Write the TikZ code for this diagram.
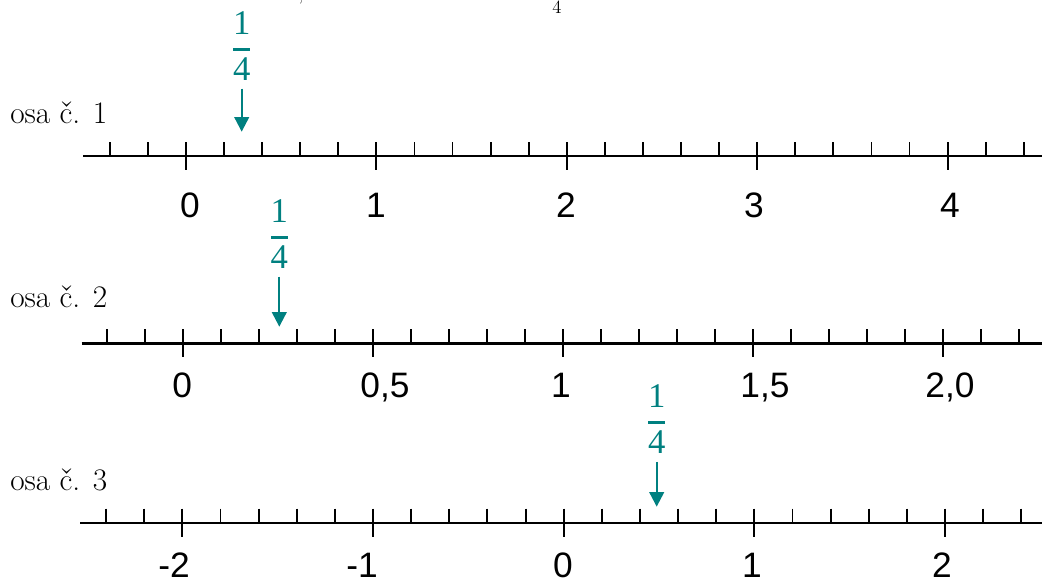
\documentclass[tikz,border=0pt]{standalone}
\usepackage{fontspec}
\newfontfamily\labfont{Liberation Sans}
\newfontfamily\fracfont{Liberation Serif}
\usetikzlibrary{arrows.meta}
\definecolor{tealc}{RGB}{0,128,128}
\begin{document}
\begin{tikzpicture}[x=0.75pt,y=-0.75pt,
  axisline/.style={line width=1.8pt, black},
  tickmark/.style={line width=1.4pt, black},
  axlabel/.style={font=\labfont\fontsize{26.5pt}{30pt}\selectfont, anchor=base, inner sep=0pt},
  osalabel/.style={font=\fontsize{23.5pt}{27pt}\selectfont, anchor=base west, inner sep=0pt},
  fracdigit/.style={font=\fracfont\fontsize{26pt}{30pt}\selectfont, text=tealc, anchor=base, inner sep=0pt},
  fracbar/.style={line width=2.2pt, tealc},
  markarrow/.style={line width=1.6pt, tealc, -{Triangle[width=11pt,length=11pt]}, shorten <=6pt},
  topfrag/.style={font=\fontsize{14pt}{16pt}\selectfont, anchor=base, inner sep=0pt}
]
\useasboundingbox (0,0) rectangle (1042,578);
\begin{scope}
\clip (0,0) rectangle (1042,578);
% clipped fragments of text above the picture
\node[topfrag] (frA) at (301,1) {,};
\node[topfrag] (frB) at (557,13) {4};
% axes with ticks
\foreach \ay/\ax/\ao/\as in {156/83/186/38.08, 343.3/81.7/183.3/38, 522.7/80/182.3/38.14} {
  \draw[axisline] (\ax,\ay) -- (1046,\ay);
  \foreach \i in {-2,...,22} {
    \pgfmathtruncatemacro\m{mod(\i+10,5)}
    \ifnum\m=0
      \draw[tickmark] ({\ao+\as*(\i)},{\ay-14}) -- ({\ao+\as*(\i)},{\ay+14});
    \else
      \draw[tickmark] ({\ao+\as*(\i)},{\ay-14}) -- ({\ao+\as*(\i)},{\ay});
    \fi
  }
}
% axis names
\node[osalabel] (osa1) at (10,123.3) {osa č. 1};
\node[osalabel] (osa2) at (10,307.7) {osa č. 2};
\node[osalabel] (osa3) at (10,490) {osa č. 3};
% axis 1 labels
\node[axlabel] (a1l0) at (190,217) {0};
\node[axlabel] (a1l1) at (376,217) {1};
\node[axlabel] (a1l2) at (566,217) {2};
\node[axlabel] (a1l3) at (754,217) {3};
\node[axlabel] (a1l4) at (950,217) {4};
% axis 2 labels
\node[axlabel] (a2l0) at (182.3,397.5) {0};
\node[axlabel] (a2l1) at (385,397.5) {0,5};
\node[axlabel] (a2l2) at (561,397.5) {1};
\node[axlabel] (a2l3) at (765,397.5) {1,5};
\node[axlabel] (a2l4) at (950,397.5) {2,0};
% axis 3 labels
\node[axlabel] (a3l0) at (174,577) {-2};
\node[axlabel] (a3l1) at (362,577) {-1};
\node[axlabel] (a3l2) at (563,577) {0};
\node[axlabel] (a3l3) at (752,577) {1};
\node[axlabel] (a3l4) at (942,577) {2};
% fraction markers
\foreach \k/\fx/\fb/\ft in {1/241.7/49.3/131.7, 2/279.3/237.3/326.7, 3/656.7/422.7/506.7} {
  \node[fracdigit] (num\k) at (\fx,{\fb-15}) {1};
  \node[fracdigit] (den\k) at (\fx,{\fb+31}) {4};
  \draw[fracbar] ({\fx-8.5},\fb) -- ({\fx+8.5},\fb);
  \coordinate (tip\k) at (\fx,\ft);
  \draw[markarrow] (den\k.south) -- (tip\k);
}
\end{scope}
\end{tikzpicture}
\end{document}
